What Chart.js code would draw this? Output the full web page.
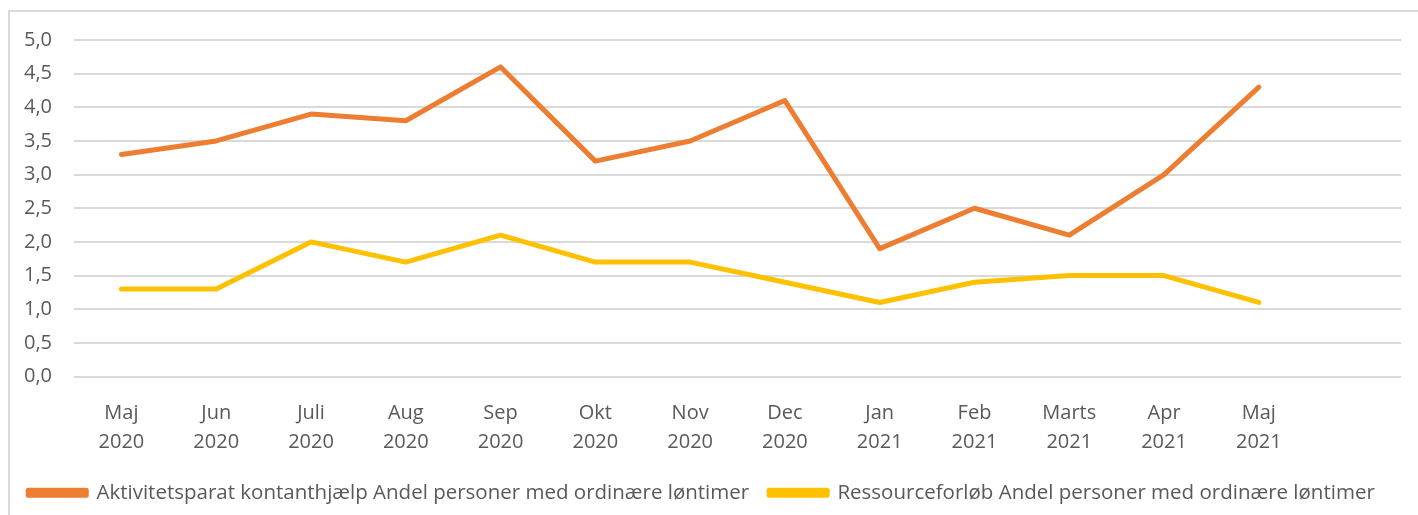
<!DOCTYPE html>
<html>
<head>
<meta charset="utf-8">
<script src="https://cdn.jsdelivr.net/npm/chart.js@4.4.0/dist/chart.umd.min.js"></script>
<style>
  html, body { margin: 0; padding: 0; background: #fff; }
  #frame {
    position: absolute; left: 8px; top: 10px; width: 1420px; height: 520px;
    border: 2px solid #d9d9d9; box-sizing: border-box;
  }
  #wrap { position: absolute; left: 0; top: 0; width: 1418px; height: 515px; }
</style>
</head>
<body>
<div id="frame"></div>
<div id="wrap"><canvas id="chart"></canvas></div>
<script>
// Months on the x axis (last slot is empty, as in the original)
const months = [
  ['Maj', '2020'], ['Jun', '2020'], ['Juli', '2020'], ['Aug', '2020'], ['Sep', '2020'],
  ['Okt', '2020'], ['Nov', '2020'], ['Dec', '2020'], ['Jan', '2021'], ['Feb', '2021'],
  ['Marts', '2021'], ['Apr', '2021'], ['Maj', '2021'], ''
];

const aktivitetsparat = [3.3, 3.5, 3.9, 3.8, 4.6, 3.2, 3.5, 4.1, 1.9, 2.5, 2.1, 3.0, 4.3, null];
const ressourceforloeb = [1.3, 1.3, 2.0, 1.7, 2.1, 1.7, 1.7, 1.4, 1.1, 1.4, 1.5, 1.5, 1.1, null];

const seriesNames = [
  'Aktivitetsparat kontanthjælp Andel personer med ordinære løntimer',
  'Ressourceforløb Andel personer med ordinære løntimer'
];

const textColor = '#595959';
const fontFamily = "'Open Sans', 'Liberation Sans', sans-serif";

const ctx = document.getElementById('chart').getContext('2d');
new Chart(ctx, {
  type: 'line',
  data: {
    labels: months,
    datasets: [
      {
        label: seriesNames[0],
        data: aktivitetsparat,
        borderColor: '#ED7D31',
        backgroundColor: '#ED7D31',
        borderWidth: 5,
        pointRadius: 0,
        borderCapStyle: 'round',
        borderJoinStyle: 'round',
        fill: false
      },
      {
        label: seriesNames[1],
        data: ressourceforloeb,
        borderColor: '#FFC000',
        backgroundColor: '#FFC000',
        borderWidth: 5,
        pointRadius: 0,
        borderCapStyle: 'round',
        borderJoinStyle: 'round',
        fill: false
      }
    ]
  },
  options: {
    responsive: true,
    maintainAspectRatio: false,
    animation: false,
    layout: { padding: { top: 40, left: 2, right: 17, bottom: 2 } },
    scales: {
      x: {
        offset: true,
        grid: { display: false },
        border: { display: false },
        ticks: {
          color: textColor,
          font: { family: fontFamily, size: 20, lineHeight: 1.45 },
          maxRotation: 0,
          autoSkip: false,
          padding: 14
        },
        // pull the legend a bit closer to the month labels
        afterFit: scale => { scale.height -= 8; }
      },
      y: {
        min: 0,
        max: 5,
        grid: { color: '#d9d9d9', lineWidth: 2, drawTicks: false },
        border: { display: false },
        ticks: {
          stepSize: 0.5,
          color: textColor,
          font: { family: fontFamily, size: 20 },
          padding: 22,
          callback: v => v.toFixed(1).replace('.', ',')
        }
      }
    },
    plugins: {
      legend: {
        position: 'bottom',
        labels: {
          color: textColor,
          font: { family: fontFamily, size: 20.5 },
          boxWidth: 58,
          boxHeight: 5,
          padding: 20
        }
      },
      tooltip: { enabled: false }
    }
  }
});
</script>
</body>
</html>
